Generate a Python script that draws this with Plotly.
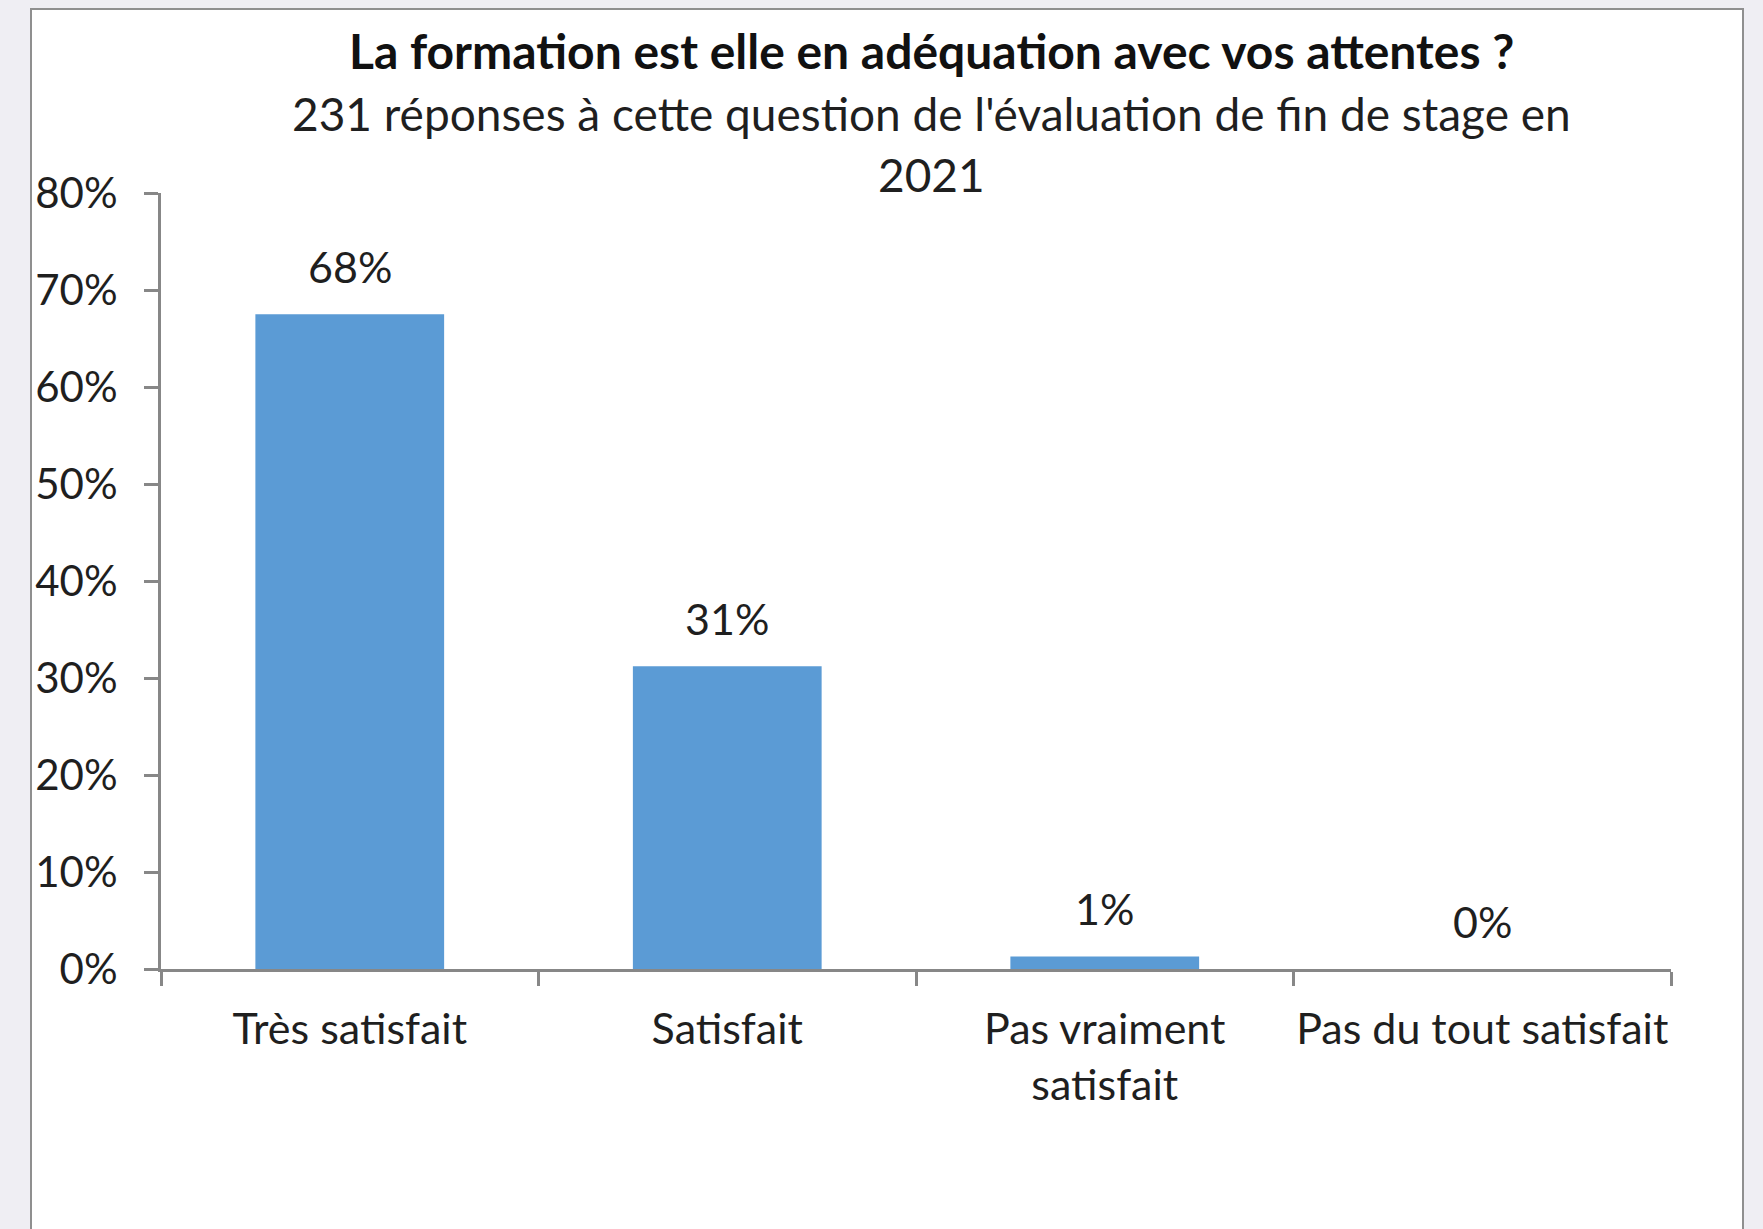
import plotly.graph_objects as go

categories = ["Très satisfait", "Satisfait", "Pas vraiment<br>satisfait", "Pas du tout satisfait"]
values = [0.675, 0.312, 0.013, 0.0]
y_ticks = [0, 0.1, 0.2, 0.3, 0.4, 0.5, 0.6, 0.7, 0.8]
title_text = "La formation est elle en adéquation avec vos attentes ?"
subtitle_lines = ["231 réponses à cette question de l'évaluation de fin de stage en", "2021"]

W, H = 1763, 1229
L, R, T, B = 161, 92, 193, 260
plot_w = W - L - R
plot_h = H - T - B

def px_x(x):
    return (x - L) / plot_w

def px_y(y):
    return (H - B - y) / plot_h

FONT = "Lato"
TXT = "#1f1f1f"
AX = "#878787"

fig = go.Figure()
fig.add_trace(go.Bar(
    x=categories, y=values,
    marker=dict(color="#5b9bd5", line=dict(width=0)),
    hoverinfo="skip",
))

for c, v in zip(categories, values):
    fig.add_annotation(
        x=c, y=v, xref="x", yref="y",
        text=f"{round(v * 100)}%", showarrow=False,
        yanchor="bottom", yshift=20,
        font=dict(family=FONT, size=43, color=TXT),
    )

fig.add_annotation(
    x=px_x(931), y=px_y(50), xref="paper", yref="paper",
    text=f"<b>{title_text}</b>", showarrow=False,
    xanchor="center", yanchor="middle",
    font=dict(family=FONT, size=48, color="#111111"),
)
for i, line in enumerate(subtitle_lines):
    fig.add_annotation(
        x=px_x(931), y=px_y(114 + 60 * i), xref="paper", yref="paper",
        text=line, showarrow=False,
        xanchor="center", yanchor="middle",
        font=dict(family=FONT, size=46, color=TXT),
    )

# chart box
fig.add_shape(
    type="rect", xref="paper", yref="paper", layer="below",
    x0=px_x(31), x1=px_x(1743), y0=px_y(1260), y1=px_y(9),
    fillcolor="white", line=dict(color="#8f8f8f", width=2),
)

fig.update_layout(
    width=W, height=H,
    margin=dict(l=L, r=R, t=T, b=B, autoexpand=False),
    paper_bgcolor="#efeef3",
    plot_bgcolor="rgba(0,0,0,0)",
    bargap=0.5,
    showlegend=False,
    font=dict(family=FONT, size=44, color=TXT),
)
fig.update_xaxes(
    type="category", range=[-0.5, 3.5],
    showline=True, linecolor=AX, linewidth=3,
    ticks="outside", tickson="boundaries", ticklen=14, tickwidth=3, tickcolor=AX,
    showgrid=False, zeroline=False,
    tickangle=0,
    tickfont=dict(family=FONT, size=43, color=TXT),
    ticklabelstandoff=20,
)
fig.update_yaxes(
    range=[0, 0.8], tickvals=y_ticks, tickformat=".0%",
    showline=True, linecolor=AX, linewidth=3,
    ticks="outside", ticklen=14, tickwidth=3, tickcolor=AX,
    showgrid=False, zeroline=False,
    tickfont=dict(family=FONT, size=42, color=TXT),
    ticklabelstandoff=18,
)

fig.write_html("out.html", config={"displayModeBar": False},
               post_script="document.body.style.margin='0';")
